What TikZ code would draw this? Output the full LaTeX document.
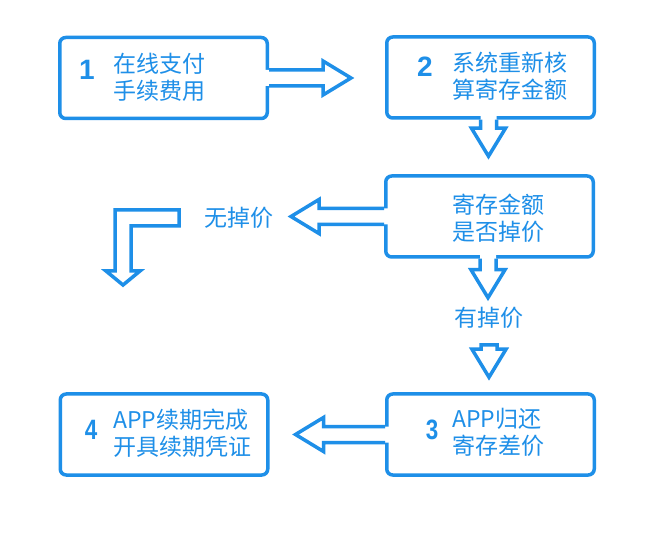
\documentclass[tikz,border=0pt]{standalone}
\usepackage{fontspec}
\setmainfont{Noto Sans CJK SC}
\newfontfamily\numfont{Liberation Sans}
\usetikzlibrary{calc}
\definecolor{fb}{HTML}{1E8FE8}
\tikzset{
  box/.style={draw=fb, line width=3.5pt, rounded corners=6pt, minimum width=207.5pt, minimum height=81pt, inner sep=0pt, fill=white},
  txt/.style={text=fb, font=\fontsize{23}{27}\selectfont, align=left, anchor=west, inner sep=0pt},
  num/.style={text=fb, font=\numfont\bfseries\fontsize{28}{28}\selectfont, inner sep=0pt},
  lbl/.style={text=fb, font=\fontsize{23}{27}\selectfont, inner sep=0pt},
  fatline/.style={draw=fb, line width=3.5pt, line join=miter},
}
\newcommand\fatarrow[3][]{%
  \coordinate (fa-s) at (#2);
  \coordinate (fa-t) at (#3);
  \coordinate (fa-h) at ($(fa-t)!28pt!(fa-s)$);
  \coordinate (fa-b) at ($(fa-s)!-5pt!(fa-t)$);
  \fill[white] ($(fa-b)!8pt!90:(fa-t)$) -- ($(fa-h)!8pt!90:(fa-t)$) -- ($(fa-h)!17pt!90:(fa-t)$) -- (fa-t) -- ($(fa-h)!17pt!-90:(fa-t)$) -- ($(fa-h)!8pt!-90:(fa-t)$) -- ($(fa-b)!8pt!-90:(fa-t)$) -- cycle;
  \draw[fatline] ($(fa-s)!8pt!90:(fa-t)$) -- ($(fa-h)!8pt!90:(fa-t)$) -- ($(fa-h)!17pt!90:(fa-t)$) -- (fa-t) -- ($(fa-h)!17pt!-90:(fa-t)$) -- ($(fa-h)!8pt!-90:(fa-t)$) -- ($(fa-s)!8pt!-90:(fa-t)$) #1;
}
\begin{document}
\begin{tikzpicture}[x=1pt,y=-1pt]
\fill[white] (0,0) rectangle (646,540);
\useasboundingbox (0,0) rectangle (646,540);

% boxes
\node[box] (b1) at (163.5,78) {};
\node[box] (b2) at (490.5,77.5) {};
\node[box] (b3) at (489.5,216.5) {};
\node[box] (b4) at (490.5,434.5) {};
\node[box] (b5) at (164,434.5) {};

% labels
\node[lbl] (lno) at (239,218) {无掉价};
\node[lbl] (lyes) at (489,318) {有掉价};

% connectors
\fatarrow{b1.east}{$(b1.east -| b2.west)+(-34,0)$}
\fatarrow{$(b2.south)+(-2,0)$}{$(b2.south |- b3.north)+(-2,-18)$}
\fatarrow{b3.west}{$(b3.west)+(-93,0)$}
\fatarrow{$(b3.south)+(-1.5,0)$}{$(b3.south)+(-1.5,39)$}
\fatarrow[-- cycle]{$(lyes.south)+(0,16)$}{$(lyes.south |- b4.north)+(0,-15)$}
\fatarrow{b4.west}{$(b4.west -| b5.east)+(26,0)$}

% bent arrow (no. branch)
\draw[fatline, fill=white] (179,210) -- (115,210) -- (115,271) -- (106,271) -- (123,285) -- (140,271) -- (131,271) -- (131,226) -- (179,226) -- cycle;

% box texts
\node[num] (n1) at (87,70) {1};
\node[txt] (t1) at (113,77.5) {在线支付\\手续费用};
\node[num] (n2) at (425,67) {2};
\node[txt] (t2) at (452,76.5) {系统重新核\\算寄存金额};
\node[txt] (t3) at (452,218.5) {寄存金额\\是否掉价};
\node[num] (n3) at (432,430) {\scalebox{0.8}[1]{3}};
\node[txt] (t4) at (452,432.5) {APP归还\\寄存差价};
\node[num] (n4) at (91,430) {\scalebox{0.8}[1]{4}};
\node[txt] (t5) at (113,433.5) {APP续期完成\\开具续期凭证};
\end{tikzpicture}
\end{document}
